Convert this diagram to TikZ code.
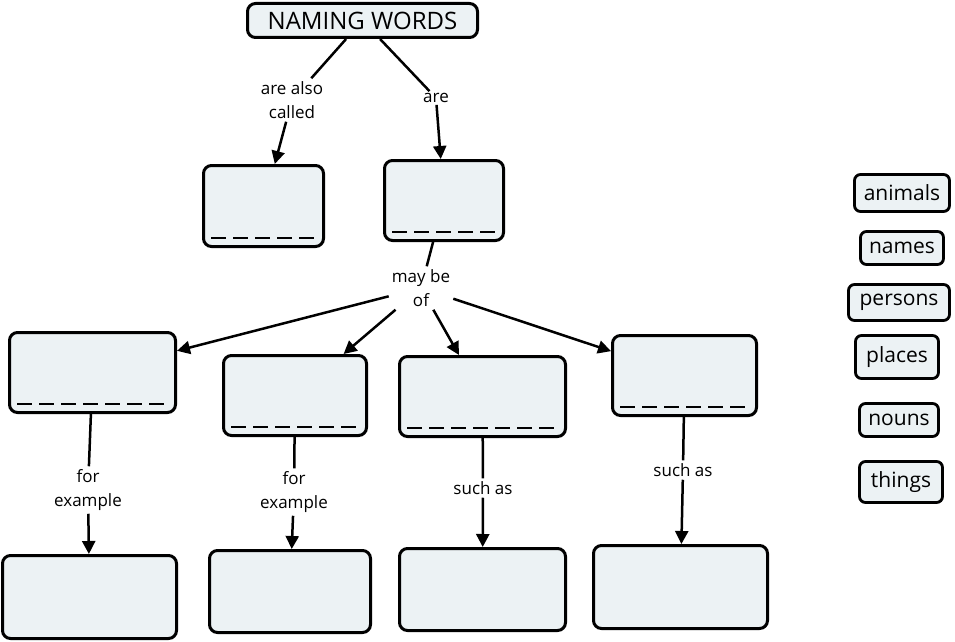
\documentclass[tikz,border=0pt]{standalone}
\usepackage{fontspec}
\setmainfont{Open Sans}
\usetikzlibrary{arrows.meta,calc}
\definecolor{boxfill}{RGB}{236,242,244}
\begin{document}
\begin{tikzpicture}[x=1pt,y=-1pt,
  box/.style={draw, line width=3pt, rounded corners=8pt, fill=boxfill, inner sep=0pt, outer sep=1.5pt},
  cbox/.style 2 args={box, minimum width=#1pt-3pt, minimum height=#2pt-3pt},
  lbl/.style={font=\fontsize{17}{24}\selectfont, align=center, inner sep=3pt},
  conn/.style={line width=2.5pt},
  arr/.style={conn, -{Triangle[length=13pt,width=13pt]}},
  blank/.style={line width=2.8pt, dash pattern=on 15pt off 7pt},
  word/.style={box, font=\fontsize{21}{24}\selectfont, line width=2.8pt, rounded corners=6pt}
]
\useasboundingbox (0,0) rectangle (955,642);

% main boxes
\node[cbox={233}{37}, font=\fontsize{24}{28}\selectfont] (title) at (362.5,20.5) {NAMING WORDS};
\node[cbox={123}{84}] (A) at (263.5,206) {};
\node[cbox={122}{83}] (B) at (444,200.5) {};
\node[cbox={169}{83}] (C) at (92.5,372.5) {};
\node[cbox={146}{83}] (D) at (295,395.5) {};
\node[cbox={169}{83}] (E) at (482.5,396.5) {};
\node[cbox={147}{83}] (F) at (684.5,375.5) {};
\node[cbox={177}{86}] (G) at (89.5,597) {};
\node[cbox={164}{85}] (H) at (290,591.5) {};
\node[cbox={169}{85}] (I) at (482.5,589.5) {};
\node[cbox={177}{86}] (J) at (680.5,587) {};

% blanks
\foreach \n in {A,B,C,D,E,F}{
  \draw[blank] ($(\n.south west)+(9,-10)$) -- ($(\n.south east)+(-9,-10)$);
}

% word bank
\node[word, minimum width=95pt, minimum height=37pt] (w1) at (902,193) {animals};
\node[word, minimum width=83pt, minimum height=33pt] (w2) at (902,248) {names};
\node[word, minimum width=101pt, minimum height=36pt] (w3) at (899,302.5) {persons};
\node[word, minimum width=83pt, minimum height=43pt] (w4) at (897,357) {places};
\node[word, minimum width=79pt, minimum height=33pt] (w5) at (899,420) {nouns};
\node[word, minimum width=83pt, minimum height=41pt] (w6) at (901,482) {things};

% linking labels
\node[lbl] (lA) at (292,100) {are also\\called};
\node[lbl, inner sep=2pt] (lB) at (436,98) {are};
\node[lbl] (lM) at (421,288) {may be\\of};
\node[lbl] (lC) at (88,490) {for\\example};
\node[lbl] (lD) at (294,492) {for\\example};
\node[lbl] (lE) at (483,488) {such as};
\node[lbl] (lF) at (683,470) {such as};

% connectors
\draw[conn] (title) -- (lA);
\draw[arr] (lA) -- (A);
\draw[conn] (title) -- (lB);
\draw[arr] (lB) -- (B);
\draw[conn] (B) -- (lM);
\draw[arr] (lM) -- (C);
\draw[arr] (lM) -- (D);
\draw[arr] (lM) -- (E);
\draw[arr] (lM) -- (F);
\draw[conn] (C) -- (lC);
\draw[arr] (lC) -- (G);
\draw[conn] (D) -- (lD);
\draw[arr] (lD) -- (H);
\draw[conn] (E) -- (lE);
\draw[arr] (lE) -- (I);
\draw[conn] (F) -- (lF);
\draw[arr] (lF) -- (J);
\end{tikzpicture}
\end{document}
